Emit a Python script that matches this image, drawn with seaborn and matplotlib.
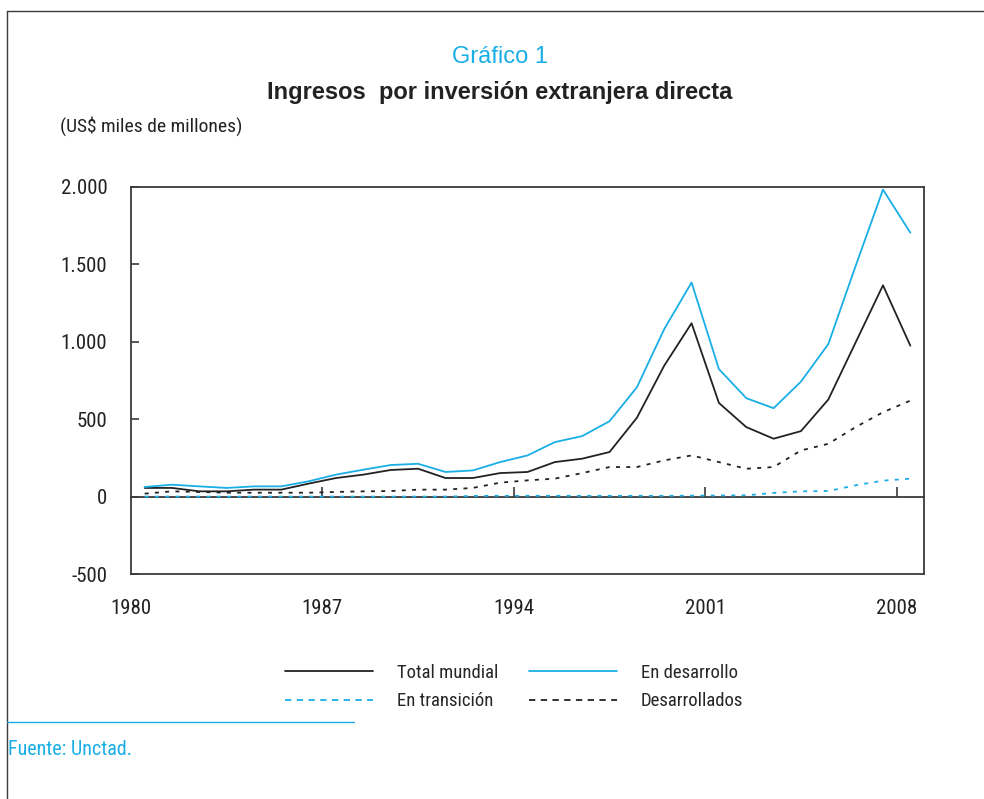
import numpy as np
import pandas as pd
import matplotlib
matplotlib.use("Agg")
import matplotlib.pyplot as plt
from matplotlib.lines import Line2D
import seaborn as sns

# ---------------- data ----------------
years = list(range(1980, 2009))
total_mundial = [56, 56, 34, 34, 45, 45, 84, 120, 142, 172, 180, 120, 120, 152,
                 159, 223, 245, 288, 509, 846, 1120, 605, 449, 374, 423, 627, 996, 1365, 975]
en_desarrollo = [62, 77, 66, 56, 66, 66, 99, 142, 174, 204, 212, 159, 169, 223,
                 266, 352, 391, 487, 706, 1082, 1383, 824, 636, 571, 743, 985, 1490, 1983, 1705]
en_transicion = [0, 0, 0, 0, 0, 0, 0, 0, 0, 0, 0, 0, 4, 5,
                 5, 5, 5, 5, 5, 5, 6, 7, 8, 24, 34, 36, 73, 103, 116]
desarrollados = [19, 34, 30, 25, 25, 25, 25, 30, 34, 36, 45, 45, 56, 90,
                 105, 116, 152, 191, 191, 234, 266, 223, 180, 191, 298, 341, 449, 545, 620]

x_ticks = [1980, 1987, 1994, 2001, 2008]
y_ticks = [-500, 0, 500, 1000, 1500, 2000]
y_tick_labels = ["-500", "0", "500", "1.000", "1.500", "2.000"]

series_names = ["Total mundial", "En desarrollo", "En transición", "Desarrollados"]

title_top = "Gráfico 1"
title_main = "Ingresos  por inversión extranjera directa"
units_label = "(US$ miles de millones)"
source_text = "Fuente: Unctad."

# ---------------- style ----------------
sns.set_style("white")
COND = ["Roboto Condensed", "Archivo Narrow", "DejaVu Sans"]
SANS = ["Liberation Sans", "DejaVu Sans"]
plt.rcParams["font.family"] = COND

BLUE = "#19aee6"
BLACK = "#222222"
FRAME = "#3a3a3a"

df = pd.DataFrame({
    "year": np.array(years) + 0.5,
    "Total mundial": total_mundial,
    "En desarrollo": en_desarrollo,
    "En transición": en_transicion,
    "Desarrollados": desarrollados,
})

fig = plt.figure(figsize=(9.84, 7.99), dpi=100)
W, H = 984, 799
ax = fig.add_axes([131 / W, 1 - 574 / H, (924 - 131) / W, (574 - 187) / H])

DOT = (0, (2.2, 3.5))
styles = {
    "Total mundial": dict(color=BLACK, linestyle="-"),
    "En desarrollo": dict(color=BLUE, linestyle="-"),
    "En transición": dict(color=BLUE, linestyle=DOT),
    "Desarrollados": dict(color=BLACK, linestyle=DOT),
}
order_draw = ["En transición", "Desarrollados", "Total mundial", "En desarrollo"]
for name in order_draw:
    sns.lineplot(data=df, x="year", y=name, ax=ax, legend=False, linewidth=1.3,
                 **styles[name])

ax.set_xlim(1980, 2009)
ax.set_ylim(-500, 2000)
ax.set_xlabel("")
ax.set_ylabel("")

for sp in ax.spines.values():
    sp.set_visible(True)
    sp.set_color(FRAME)
    sp.set_linewidth(1.3)

ax.set_yticks(y_ticks)
ax.set_yticklabels(y_tick_labels)
ax.tick_params(axis="y", direction="in", length=6, width=1.2, color=FRAME,
               pad=17, labelsize=15, labelcolor="#222222", left=True)
ax.set_xticks(x_ticks)
ax.set_xticklabels([str(v) for v in x_ticks])
ax.tick_params(axis="x", length=0, pad=18, labelsize=15, labelcolor="#222222")

# zero line with inward ticks
sec = ax.secondary_xaxis(0.2)
sec.set_xticks(x_ticks[1:])
sec.tick_params(direction="in", length=7, width=1.2, color=FRAME, labelbottom=False)
sec.spines["bottom"].set_color(FRAME)
sec.spines["bottom"].set_linewidth(1.3)
sec.set_xlabel("")

# titles
fig.text(500 / W, 1 - 63 / H, title_top, ha="center", va="baseline", color=BLUE,
         fontsize=17, family=SANS)
fig.text(500 / W, 1 - 99 / H, title_main, ha="center", va="baseline", color=BLACK,
         fontsize=17, fontweight="bold", family=SANS)
fig.text(60 / W, 1 - 132 / H, units_label, ha="left", va="baseline", color=BLACK,
         fontsize=14)

# legend
LDASH = (0, (3.5, 3))
handles = {
    "Total mundial": Line2D([], [], color=BLACK, lw=1.3),
    "En desarrollo": Line2D([], [], color=BLUE, lw=1.3),
    "En transición": Line2D([], [], color=BLUE, lw=1.3, linestyle=LDASH),
    "Desarrollados": Line2D([], [], color=BLACK, lw=1.3, linestyle=LDASH),
}
leg_order = ["Total mundial", "En transición", "En desarrollo", "Desarrollados"]
fig.legend([handles[n] for n in leg_order], leg_order, ncol=2,
           loc="center left", bbox_to_anchor=(285 / W, 1 - 687 / H), frameon=False,
           fontsize=13.5, handlelength=4.7, handletextpad=1.28, columnspacing=1.6,
           labelspacing=0.55, borderpad=0, borderaxespad=0)

# outer frame
fy = 1 - 11 / H
fx = 7 / W
fig.add_artist(Line2D([fx, fx], [0, fy], color=FRAME, lw=1.0))
fig.add_artist(Line2D([fx, 1], [fy, fy], color=FRAME, lw=1.0))

# source
fig.add_artist(Line2D([fx, 354 / W], [1 - 722 / H, 1 - 722 / H], color=BLUE, lw=1.0))
fig.text(8 / W, 1 - 755 / H, source_text, ha="left", va="baseline", color=BLUE,
         fontsize=14.5)

fig.savefig("out.png", dpi=100)
